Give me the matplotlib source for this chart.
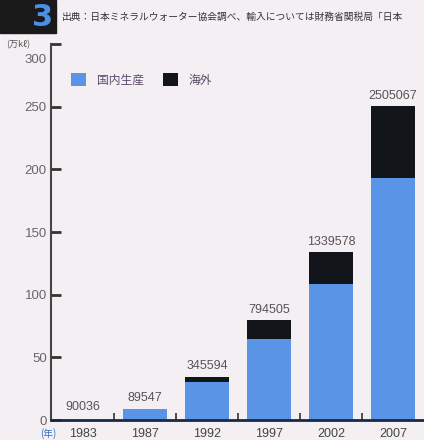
import matplotlib.pyplot as plt
from matplotlib.patches import Rectangle
import matplotlib.transforms as mtransforms

plt.rcParams['font.family'] = ['Noto Sans CJK JP', 'DejaVu Sans']

years = ['1983', '1987', '1992', '1997', '2002', '2007']
labels = ['90036', '89547', '345594', '794505', '1339578', '2505067']
domestic = [0, 9, 30, 65, 108.5, 193]
imported = [0, 0, 4.6, 14.5, 25.5, 57.5]

blue = '#5a94e6'
black = '#12151a'
bg = '#f4eff3'

fig = plt.figure(figsize=(4.24, 4.4), dpi=100)
fig.patch.set_facecolor(bg)

# header block
fig.patches.append(Rectangle((0, 1 - 33 / 440), 56 / 424, 33 / 440,
                             transform=fig.transFigure, color='#1a1a1a', zorder=0))
fig.text(43 / 424, 1 - 18 / 440, '3', color='#4a8fe8', fontsize=22, fontweight='bold',
         family='DejaVu Sans', ha='center', va='center')
fig.text(62 / 424, 1 - 17 / 440,
         '出典：日本ミネラルウォーター協会調べ、輸入については財務省関税局「日本',
         fontsize=7, color='#333333', ha='left', va='center')
fig.text(6 / 424, 1 - 45 / 440, '(万kℓ)', fontsize=6.5, color='#555555',
         ha='left', va='center')

ax = fig.add_axes([51 / 424, 20 / 440, 1 - 51 / 424, (420 - 44) / 440])
ax.set_facecolor(bg)
x = range(len(years))
ax.bar(x, domestic, width=0.7, color=blue, label='国内生産', zorder=2)
ax.bar(x, imported, width=0.7, bottom=domestic, color=black, label='海外', zorder=2)

for i, lab in enumerate(labels):
    top = max(domestic[i] + imported[i], 2)
    ax.text(i, top + 3.5, lab, ha='center', va='bottom', fontsize=9,
            color='#555555', family='Liberation Sans')

ax.set_xlim(-0.52, 5.5)
ax.set_ylim(0, 300)
ax.set_yticks([0, 50, 100, 150, 200, 250, 300])
ax.set_xticks(list(x))
ax.set_xticklabels(years, fontsize=9, color='#444444', family='Liberation Sans')
ax.set_xticks([i + 0.5 for i in range(5)], minor=True)
ax.tick_params(axis='x', which='major', length=0, pad=6)
ax.tick_params(axis='x', which='minor', direction='in', length=5, width=1.2, color='#333333')
ax.tick_params(axis='y', direction='in', length=7, width=2, color='#333333',
               labelsize=9.5, labelcolor='#666666', pad=3)
for t in ax.get_yticklabels():
    t.set_family('Liberation Sans')
# the top label sits a little below its tick in the original
top_lab = ax.get_yticklabels()[-1]
top_lab.set_transform(top_lab.get_transform() +
                      mtransforms.ScaledTranslation(0, -14 / 100, fig.dpi_scale_trans))

ax.spines['top'].set_visible(False)
ax.spines['right'].set_visible(False)
ax.spines['left'].set_color('#444444')
ax.spines['left'].set_linewidth(1.5)
ax.spines['bottom'].set_color('#1a2848')
ax.spines['bottom'].set_linewidth(2)

fig.text(40 / 424, 1 - 434 / 440, '(年)', fontsize=7, color='#3a6ec8',
         ha='left', va='center')

leg = ax.legend(loc='upper left', bbox_to_anchor=(0.04, 0.935), ncol=2, frameon=False,
                fontsize=8.5, handlelength=1.3, handleheight=1.3, columnspacing=1.6,
                handletextpad=0.9, borderaxespad=0)
for t in leg.get_texts():
    t.set_color('#5a4a6a')

fig.savefig('out.png', dpi=100, facecolor=bg)
